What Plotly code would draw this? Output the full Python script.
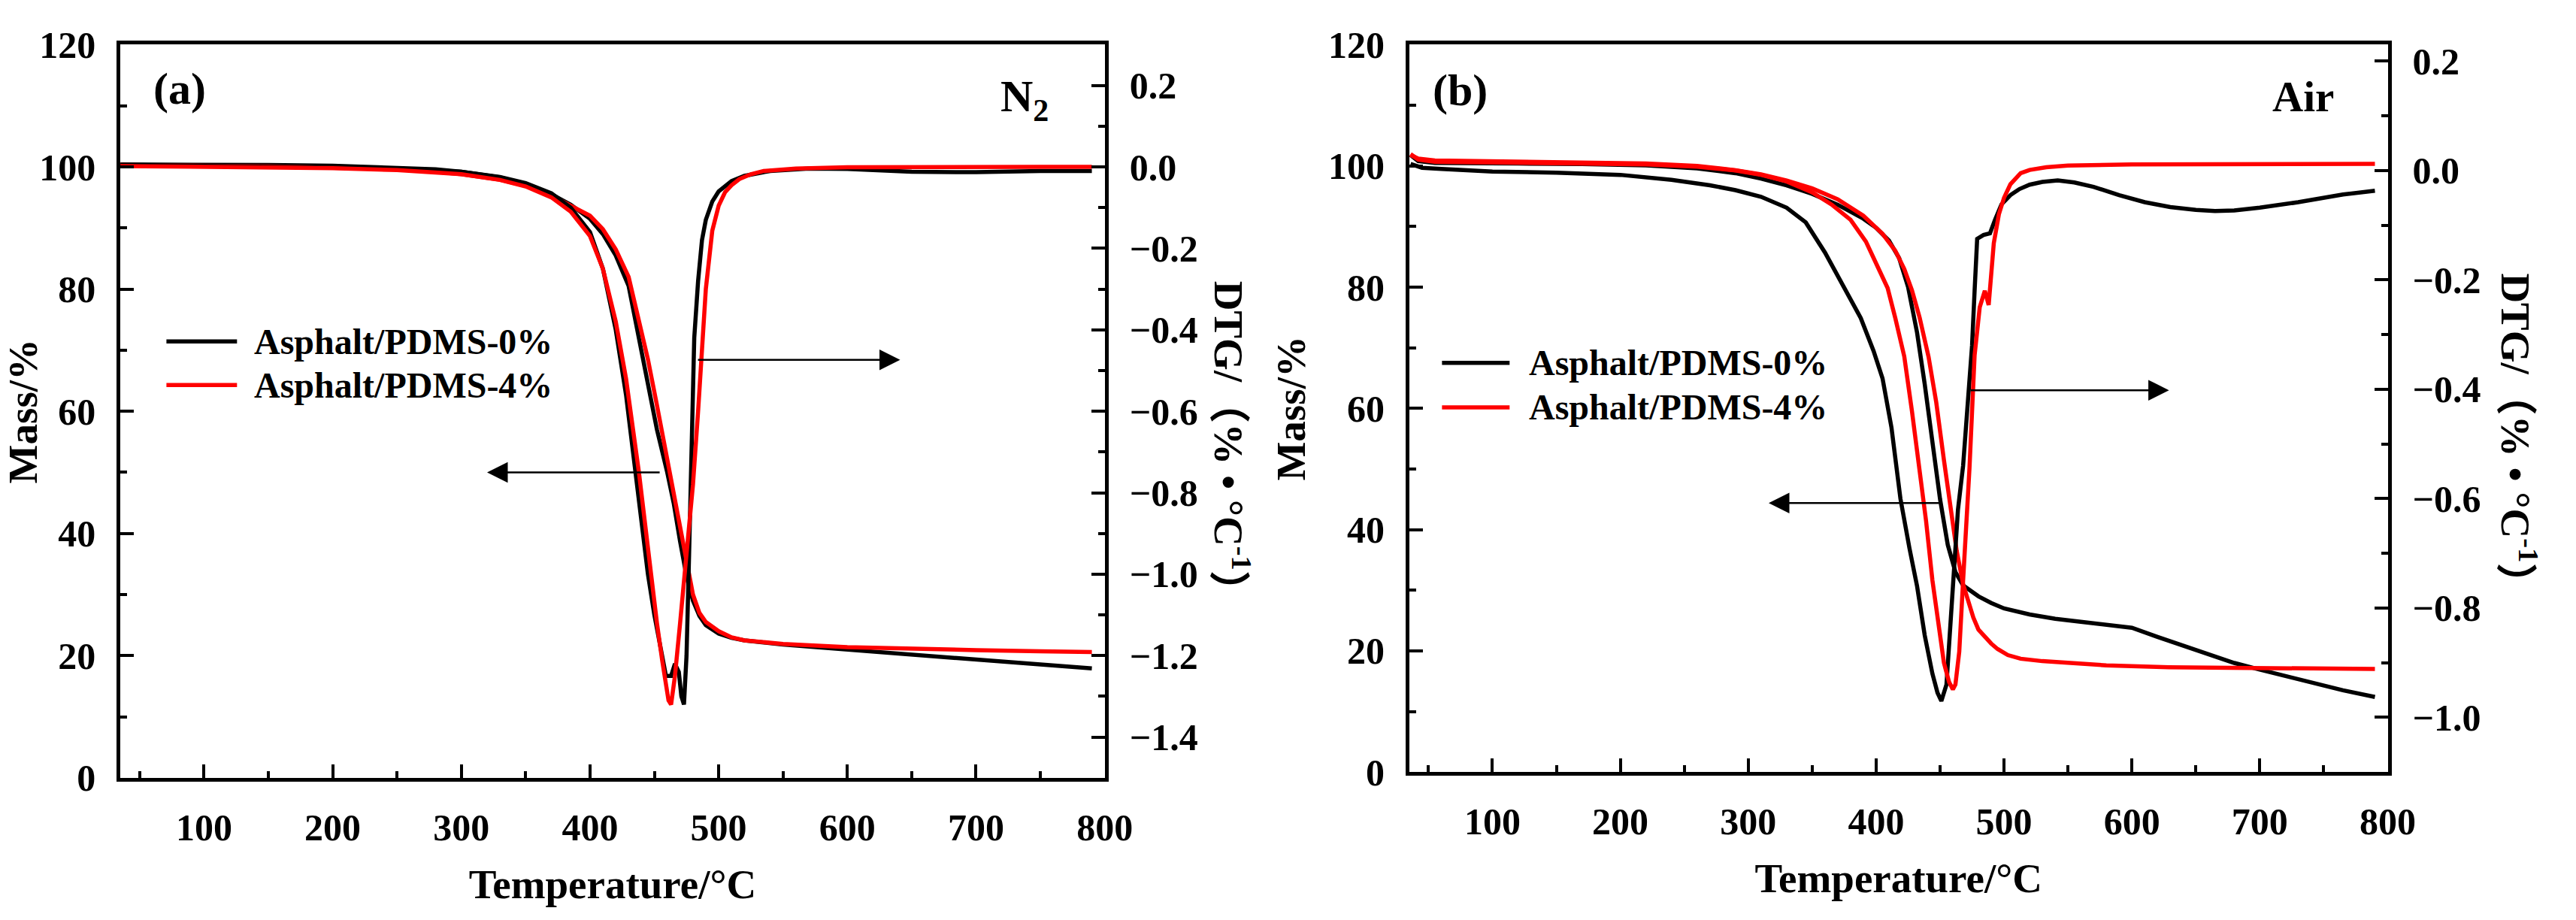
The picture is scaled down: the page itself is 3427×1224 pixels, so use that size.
import plotly.graph_objects as go

# ---------------- data: panel (a) N2 ----------------
T_a_tg0 = [35, 60, 100, 150, 200, 250, 280, 300, 330, 350, 370, 385, 400, 410, 420, 430, 437, 445, 452, 460, 465, 470, 475, 480, 485, 490, 500, 510, 520, 550, 600, 650, 700, 750, 790]
M_a_tg0 = [100.4, 100.4, 100.4, 100.3, 100.2, 99.9, 99.6, 99.2, 98.3, 97.2, 95.5, 93.8, 91.5, 89.0, 85.5, 80.5, 73.0, 65.0, 57.0, 50.0, 45.0, 38.7, 33.0, 29.0, 26.5, 25.0, 23.6, 22.9, 22.5, 21.8, 21.0, 20.2, 19.3, 18.5, 17.9]
T_a_tg4 = [35, 60, 100, 150, 200, 250, 280, 300, 330, 350, 370, 385, 400, 410, 420, 430, 437, 445, 452, 460, 465, 470, 475, 480, 485, 490, 500, 510, 520, 550, 600, 650, 700, 750, 790]
M_a_tg4 = [100.3, 100.3, 100.2, 100.1, 99.9, 99.6, 99.2, 98.8, 97.9, 96.9, 95.3, 93.7, 92.0, 89.8, 86.5, 82.0, 76.0, 68.5, 61.0, 52.0, 46.5, 40.5, 35.0, 30.0, 27.0, 25.5, 24.0, 23.0, 22.5, 21.9, 21.4, 21.1, 20.9, 20.7, 20.6]

T_a_dtg0 = [35, 100, 200, 250, 300, 330, 350, 370, 385, 400, 410, 420, 428, 435, 440, 445, 450, 455, 459, 463, 466, 469, 471, 473, 475, 477, 479, 481, 484, 487, 490, 495, 500, 510, 520, 540, 570, 600, 650, 700, 750, 790]
D_a_dtg0 = [0.005, 0.003, 0.0, -0.004, -0.012, -0.025, -0.04, -0.065, -0.1, -0.16, -0.25, -0.40, -0.56, -0.74, -0.86, -1.0, -1.1, -1.19, -1.25, -1.25, -1.22, -1.24, -1.30, -1.32, -1.20, -0.95, -0.62, -0.42, -0.28, -0.18, -0.13, -0.085, -0.06, -0.035, -0.022, -0.01, -0.004, -0.005, -0.012, -0.013, -0.01, -0.01]
T_a_dtg4 = [35, 100, 200, 250, 300, 330, 350, 370, 385, 400, 410, 420, 428, 438, 443, 448, 452, 456, 459, 461, 463, 466, 470, 474, 477, 480, 484, 487, 490, 495, 500, 505, 510, 516, 525, 535, 560, 600, 650, 700, 750, 790]
D_a_dtg4 = [0.002, 0.001, -0.003, -0.008, -0.018, -0.032, -0.048, -0.075, -0.11, -0.17, -0.25, -0.38, -0.52, -0.75, -0.89, -1.02, -1.12, -1.21, -1.27, -1.31, -1.32, -1.25, -1.12, -0.98, -0.9, -0.78, -0.6, -0.45, -0.3, -0.157, -0.095, -0.062, -0.045, -0.03, -0.018, -0.01, -0.004, -0.001, 0.0, 0.0, 0.0, 0.0]

# ---------------- data: panel (b) Air ----------------
T_b_tg0 = [36, 42, 55, 80, 120, 170, 220, 260, 290, 310, 330, 350, 370, 390, 400, 410, 418, 425, 432, 438, 444, 450, 456, 462, 468, 474, 480, 490, 500, 520, 540, 560, 580, 600, 620, 640, 660, 680, 700, 720, 740, 765, 790]
M_b_tg0 = [101.8, 100.8, 100.5, 100.4, 100.4, 100.3, 100.1, 99.6, 98.8, 97.9, 96.8, 95.4, 93.6, 91.3, 89.8, 87.7, 84.8, 80.0, 72.5, 64.0, 55.0, 45.0, 37.5, 33.0, 30.8, 29.8, 29.0, 27.9, 27.0, 26.0, 25.3, 24.8, 24.3, 23.8, 22.3, 20.9, 19.4, 18.0, 16.9, 15.8, 14.8, 13.5, 12.4]
T_b_tg4 = [36, 42, 55, 80, 120, 170, 220, 260, 290, 310, 330, 350, 370, 390, 405, 415, 422, 428, 434, 441, 447, 453, 458, 463, 468, 472, 476, 480, 485, 490, 495, 503, 513, 530, 552, 580, 629, 700, 765, 790]
M_b_tg4 = [101.8, 101.2, 100.9, 100.8, 100.7, 100.6, 100.4, 100.0, 99.3, 98.6, 97.6, 96.3, 94.5, 91.8, 88.8, 86.0, 83.0, 79.5, 75.0, 68.5, 61.0, 51.5, 43.5, 36.5, 31.0, 28.0, 25.5, 23.5, 22.3, 21.2, 20.3, 19.3, 18.7, 18.3, 18.0, 17.6, 17.3, 17.1, 17.0, 17.0]

T_b_dtg0 = [36, 45, 60, 100, 150, 200, 240, 270, 290, 310, 330, 345, 360, 375, 388, 398, 405, 412, 419, 426, 432, 438, 444, 448, 451, 455, 460, 464, 468, 472, 475, 477, 479, 484, 489, 493, 498, 505, 512, 520, 530, 542, 555, 570, 590, 610, 630, 650, 665, 680, 700, 730, 765, 790]
D_b_dtg0 = [0.012, 0.005, 0.003, -0.002, -0.004, -0.008, -0.017, -0.027, -0.036, -0.048, -0.068, -0.095, -0.15, -0.215, -0.27, -0.33, -0.38, -0.47, -0.6, -0.69, -0.76, -0.85, -0.92, -0.955, -0.97, -0.94, -0.75, -0.62, -0.54, -0.42, -0.32, -0.22, -0.125, -0.118, -0.115, -0.09, -0.062, -0.045, -0.034, -0.026, -0.021, -0.018, -0.022, -0.03, -0.045, -0.058, -0.067, -0.072, -0.074, -0.073, -0.068, -0.058, -0.044, -0.037]
T_b_dtg4 = [36, 42, 55, 80, 120, 170, 220, 260, 290, 310, 330, 350, 365, 380, 392, 402, 409, 415, 422, 428, 434, 439, 444, 449, 453, 457, 460, 462, 465, 468, 473, 477, 481, 485, 488, 492, 496, 500, 505, 513, 520, 533, 550, 600, 700, 790]
D_b_dtg4 = [0.03, 0.02, 0.016, 0.015, 0.014, 0.013, 0.011, 0.007, 0.0, -0.008, -0.02, -0.04, -0.062, -0.09, -0.13, -0.18, -0.215, -0.27, -0.34, -0.44, -0.544, -0.64, -0.749, -0.84, -0.9, -0.935, -0.949, -0.94, -0.88, -0.75, -0.544, -0.338, -0.25, -0.22, -0.246, -0.133, -0.08, -0.05, -0.025, -0.005, 0.001, 0.006, 0.009, 0.011, 0.012, 0.012]

labels = ["Asphalt/PDMS-0%", "Asphalt/PDMS-4%"]
BLACK = "#000000"
RED = "#FF0000"
FONT = "Liberation Serif, Times New Roman, Noto Sans CJK SC, serif"
LW = 5.5

fig = go.Figure()

def add(x, y, color, xa, ya, name):
    fig.add_trace(go.Scatter(x=x, y=y, mode="lines", line=dict(color=color, width=LW),
                             xaxis=xa, yaxis=ya, name=name, showlegend=False))

# panel a
add(T_a_dtg0, D_a_dtg0, BLACK, "x", "y2", labels[0])
add(T_a_dtg4, D_a_dtg4, RED, "x", "y2", labels[1])
add(T_a_tg0, M_a_tg0, BLACK, "x", "y", labels[0])
add(T_a_tg4, M_a_tg4, RED, "x", "y", labels[1])
# panel b
add(T_b_dtg0, D_b_dtg0, BLACK, "x2", "y4", labels[0])
add(T_b_dtg4, D_b_dtg4, RED, "x2", "y4", labels[1])
add(T_b_tg0, M_b_tg0, BLACK, "x2", "y3", labels[0])
add(T_b_tg4, M_b_tg4, RED, "x2", "y3", labels[1])

W, H = 3427, 1224
tickfont = dict(family=FONT, size=50, color="black", weight="bold")
titlefont = dict(family=FONT, size=55, color="black", weight="bold")

def xax(domain, anchor):
    return dict(domain=domain, anchor=anchor, range=[35, 800], showline=True, linecolor="black",
                linewidth=5, mirror=True, ticks="inside", ticklen=18, tickwidth=4, tickcolor="black",
                tick0=0, dtick=100, showgrid=False, zeroline=False, tickfont=tickfont,
                minor=dict(ticks="inside", ticklen=9, tickwidth=4, tickcolor="black", dtick=50, tick0=0),
                title=dict(text="Temperature/\u00b0C", font=titlefont, standoff=30),
                ticklabelstandoff=18)

def yax(domain, anchor):
    return dict(domain=domain, anchor=anchor, range=[0, 120], showline=True, linecolor="black",
                linewidth=5, ticks="inside", ticklen=18, tickwidth=4, tickcolor="black",
                tick0=0, dtick=20, showgrid=False, zeroline=False, tickfont=tickfont,
                minor=dict(ticks="inside", ticklen=9, tickwidth=4, tickcolor="black", dtick=10, tick0=0),
                title=dict(text="Mass/%", font=titlefont, standoff=14),
                ticklabelstandoff=18)

def y2ax(overlay, anchor, rng):
    return dict(overlaying=overlay, anchor=anchor, side="right", range=rng, showline=True,
                linecolor="black", linewidth=5, ticks="inside", ticklen=18, tickwidth=4,
                tickcolor="black", tick0=0, dtick=0.2, tickformat=".1f", showgrid=False,
                zeroline=False, tickfont=tickfont,
                minor=dict(ticks="inside", ticklen=9, tickwidth=4, tickcolor="black", dtick=0.1, tick0=0),
                ticklabelstandoff=18)

dom_a_x = [160 / W, 1485 / W]
dom_a_y = [1 - 1056 / H, 1 - 33 / H]
dom_b_x = [1895 / W, 3212 / W]
dom_b_y = [1 - 1048 / H, 1 - 33 / H]

fig.update_layout(
    width=W, height=H, margin=dict(l=0, r=0, t=0, b=0),
    paper_bgcolor="white", plot_bgcolor="white", showlegend=False,
    xaxis=xax(dom_a_x, "y"), yaxis=yax(dom_a_y, "x"), yaxis2=y2ax("y", "x", [-1.5, 0.3]),
    xaxis2=xax(dom_b_x, "y3"), yaxis3=yax(dom_b_y, "x2"), yaxis4=y2ax("y3", "x2", [-1.1, 0.23]),
)

def P(x, y):
    return x / W, 1 - y / H

labfont = dict(family=FONT, size=60, color="black", weight="bold")
legfont = dict(family=FONT, size=48, color="black", weight="bold")
ann = []
shapes = []

def text(t, x, y, font, xanchor="center", angle=0):
    px, py = P(x, y)
    ann.append(dict(text=t, x=px, y=py, xref="paper", yref="paper", showarrow=False,
                    xanchor=xanchor, yanchor="middle", textangle=angle, font=font))

text("(a)", 240, 94, labfont)
text("N<sub>2</sub>", 1377, 110, labfont)
text("(b)", 1963, 97, labfont)
text("Air", 3098, 105, dict(labfont, size=57))
dtg_title = "DTG/\uff08% \u2022 \u00b0C<sup>-1</sup>\uff09"
text(dtg_title, 1656, 593, titlefont, angle=90)
text(dtg_title, 3388, 583, titlefont, angle=90)

# manual legends (line sample + label)
legend_rows = [
    (222, 317, 338, 447, BLACK, labels[0]),
    (222, 317, 338, 508, RED, labels[1]),
    (1939, 2030, 2054, 477, BLACK, labels[0]),
    (1939, 2030, 2054, 539, RED, labels[1]),
]
for x0, x1, xt, yy, col, lab in legend_rows:
    a0, b0 = P(x0, yy)
    a1, _ = P(x1, yy)
    shapes.append(dict(type="line", xref="paper", yref="paper", x0=a0, x1=a1, y0=b0, y1=b0,
                       line=dict(color=col, width=LW)))
    text(lab, xt, yy, legfont, xanchor="left")

arrow_style = dict(showarrow=True, arrowhead=2, arrowsize=2.2, arrowwidth=2.5, arrowcolor="black", text="")
ann += [
    dict(x=320, y=50, ax=455, ay=50, xref="x", yref="y", axref="x", ayref="y", **arrow_style),
    dict(x=641, y=68.4, ax=483, ay=68.4, xref="x", yref="y", axref="x", ayref="y", **arrow_style),
    dict(x=316, y=44.4, ax=450, ay=44.4, xref="x2", yref="y3", axref="x2", ayref="y3", **arrow_style),
    dict(x=629, y=63, ax=473, ay=63, xref="x2", yref="y3", axref="x2", ayref="y3", **arrow_style),
]
fig.update_layout(annotations=ann, shapes=shapes)

fig.write_html("out.html")
